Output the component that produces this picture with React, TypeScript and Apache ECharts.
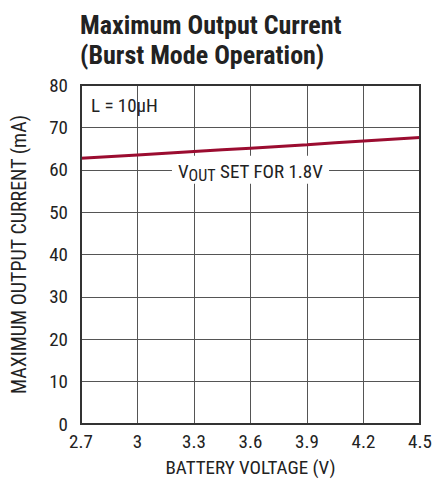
import React, { useEffect, useRef } from "react";
import * as echarts from "echarts";

const voltages = [2.7, 3.0, 3.3, 3.6, 3.9, 4.2, 4.5];
const currents = [62.7, 63.5, 64.3, 65.1, 65.9, 66.8, 67.6];
const titleLines = ["Maximum Output Current", "(Burst Mode Operation)"];
const xName = "BATTERY VOLTAGE (V)";
const yName = "MAXIMUM OUTPUT CURRENT (mA)";
const curveLabelAt = [3.6, 60];
const noteText = "L = 10μH";

const FONT = '"Roboto Condensed", "Liberation Sans Narrow", sans-serif';

export default function App() {
  const ref = useRef<HTMLDivElement>(null);
  useEffect(() => {
    if (!ref.current) return;
    const chart = echarts.init(ref.current, undefined, { renderer: "svg" });
    chart.setOption({
      animation: false,
      backgroundColor: "#fff",
      title: {
        text: titleLines.join("\n"),
        left: 75,
        top: 5,
        textStyle: {
          fontFamily: FONT,
          fontWeight: "bold",
          fontSize: 26,
          lineHeight: 30,
          color: "#222",
        },
      },
      grid: {
        left: 81,
        top: 85,
        width: 339,
        height: 339,
        containLabel: false,
        outerBoundsMode: "none",
      },
      xAxis: {
        type: "value",
        min: 2.7,
        max: 4.5,
        interval: 0.3,
        name: xName,
        nameLocation: "middle",
        nameGap: 34,
        nameTextStyle: { fontFamily: FONT, fontSize: 19, color: "#222", lineHeight: 19 },
        axisLine: { show: true, onZero: false, lineStyle: { color: "#333", width: 2 } },
        axisTick: { show: false },
        axisLabel: {
          fontFamily: FONT,
          fontSize: 19,
          color: "#222",
          margin: 8,
          formatter: (v: number) => String(+v.toFixed(1)),
        },
        splitLine: { show: true, lineStyle: { color: "#555", width: 1 } },
      },
      yAxis: {
        type: "value",
        min: 0,
        max: 80,
        interval: 10,
        name: yName,
        nameLocation: "middle",
        nameGap: 52,
        nameTextStyle: { fontFamily: FONT, fontSize: 20, color: "#222" },
        axisLine: { show: true, lineStyle: { color: "#333", width: 2 } },
        axisTick: { show: false },
        axisLabel: { fontFamily: FONT, fontSize: 19, color: "#222", margin: 13 },
        splitLine: { show: true, lineStyle: { color: "#555", width: 1 } },
      },
      graphic: [
        {
          type: "rect",
          shape: { x: 81, y: 85, width: 339, height: 339 },
          style: { fill: "none", stroke: "#333", lineWidth: 2 },
          silent: true,
          z: 10,
        },
        {
          type: "text",
          left: 91,
          top: 96,
          style: { text: noteText, font: `19px ${FONT}`, fill: "#222" },
          z: 20,
        },
      ],
      series: [
        {
          type: "line",
          data: voltages.map((v, i) => [v, currents[i]]),
          showSymbol: false,
          smooth: true,
          lineStyle: { color: "#9b0c30", width: 3 },
          z: 5,
          markPoint: {
            symbol: "rect",
            symbolSize: 0,
            data: [{ coord: curveLabelAt }],
            label: {
              show: true,
              position: "inside",
              backgroundColor: "#fff",
              padding: [4, 6, 0, 6],
              formatter: "{a|V}{b|OUT}{a| SET FOR 1.8V}",
              rich: {
                a: { fontFamily: FONT, fontSize: 19, color: "#222" },
                b: { fontFamily: FONT, fontSize: 16, color: "#222", padding: [8, 0, 0, 0] },
              },
            },
          },
        },
      ],
    });
    return () => chart.dispose();
  }, []);
  return <div ref={ref} style={{ width: 434, height: 479, position: "absolute", left: 0, top: 0 }} />;
}
